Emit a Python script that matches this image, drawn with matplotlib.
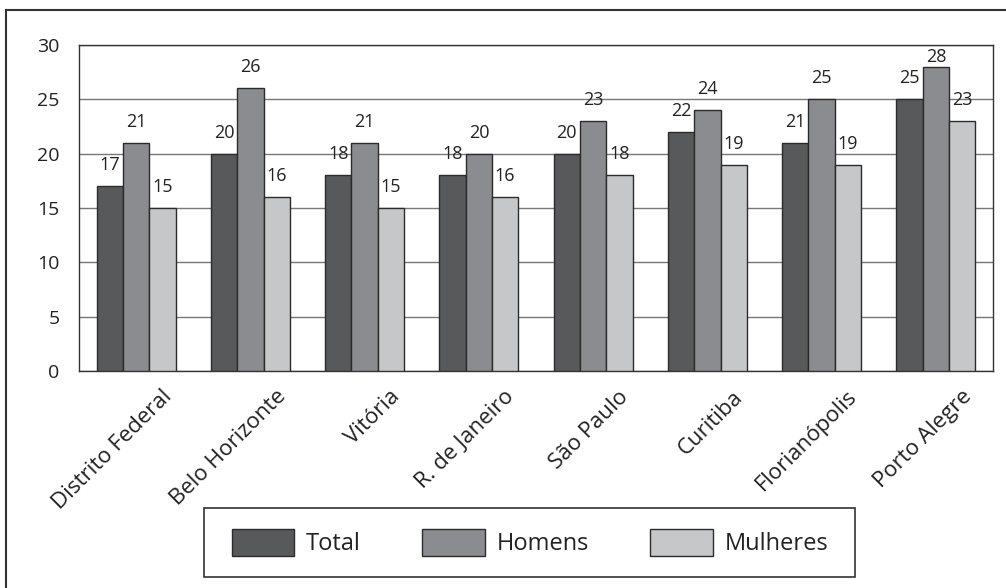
import matplotlib
matplotlib.use("Agg")
import matplotlib.pyplot as plt
import matplotlib.transforms as mtransforms
from matplotlib.patches import Patch, Rectangle
from matplotlib.lines import Line2D
import numpy as np

plt.rcParams['font.family'] = ['Open Sans', 'DejaVu Sans']

# Data
cidades = ['Distrito Federal', 'Belo Horizonte', 'Vitória', 'R. de Janeiro',
           'São Paulo', 'Curitiba', 'Florianópolis', 'Porto Alegre']
total = [17, 20, 18, 18, 20, 22, 21, 25]
homens = [21, 26, 21, 20, 23, 24, 25, 28]
mulheres = [15, 16, 15, 16, 18, 19, 19, 23]
series_names = ['Total', 'Homens', 'Mulheres']
y_ticks = [0, 5, 10, 15, 20, 25, 30]

colors = ['#58595b', '#8b8c8f', '#c6c7c9']
edge = '#2b2b2b'
txt = '#222222'

fig = plt.figure(figsize=(10.06, 5.88), dpi=100)
W, H = 1006, 588
# plot area in pixels: x 79..993, y 45..371 (from top)
ax = fig.add_axes([79 / W, 1 - 371 / H, (993 - 79) / W, (371 - 45) / H])

x = np.arange(len(cidades))
bw = 0.23
ymax = 30
off = 1.47      # label baseline offset above bar (data units)
lab_h = 1.57    # label box height, keeps labels inside the plot

for i, (vals, c) in enumerate(zip([total, homens, mulheres], colors)):
    pos = x + (i - 1) * bw
    ax.bar(pos, vals, width=bw, color=c, edgecolor=edge, linewidth=1.0, zorder=3)
    for p, v in zip(pos, vals):
        yl = min(v + off, ymax - lab_h)
        ax.text(p, yl, str(v), ha='center', va='baseline', fontsize=13,
                color=txt, zorder=4)

ax.set_xlim(-0.5, len(cidades) - 0.5)
ax.set_ylim(0, ymax)
ax.set_yticks(y_ticks)
ax.set_yticklabels([str(t) for t in y_ticks], fontsize=14, color=txt)
ax.tick_params(axis='y', length=0, pad=14)
ax.yaxis.grid(True, color='#777777', linewidth=1.0, zorder=0)
ax.set_axisbelow(True)

ax.set_xticks(x)
ax.set_xticklabels(cidades, rotation=45, ha='right', va='top',
                   rotation_mode='anchor', fontsize=16, color=txt)
ax.tick_params(axis='x', length=0, pad=11)
shift = mtransforms.ScaledTranslation(0.25, 0, fig.dpi_scale_trans)
for lbl in ax.get_xticklabels():
    lbl.set_transform(lbl.get_transform() + shift)

for s in ax.spines.values():
    s.set_color('#333333')
    s.set_linewidth(1.0)

# legend with a square frame drawn around it
handles = [Patch(facecolor=c, edgecolor=edge, linewidth=1.0) for c in colors]
leg = fig.legend(handles, series_names, loc='center',
                 bbox_to_anchor=(530 / W, 1 - 542.5 / H), ncol=3,
                 fontsize=17, handlelength=2.65, handleheight=1.4,
                 handletextpad=0.5, columnspacing=2.6, borderpad=0.0,
                 frameon=False)
for t in leg.get_texts():
    t.set_color(txt)
fig.add_artist(Rectangle((204 / W, 1 - 577 / H), (855 - 204) / W, (577 - 508) / H,
                         transform=fig.transFigure, fill=False,
                         edgecolor='#333333', linewidth=1.2))

# outer border (only top and left visible)
fig.add_artist(Line2D([6 / W, 1.0], [1 - 10 / H, 1 - 10 / H],
                      transform=fig.transFigure, color='#333333', linewidth=1.5))
fig.add_artist(Line2D([6 / W, 6 / W], [0.0, 1 - 10 / H],
                      transform=fig.transFigure, color='#333333', linewidth=1.5))

fig.savefig('out.png', dpi=100)
